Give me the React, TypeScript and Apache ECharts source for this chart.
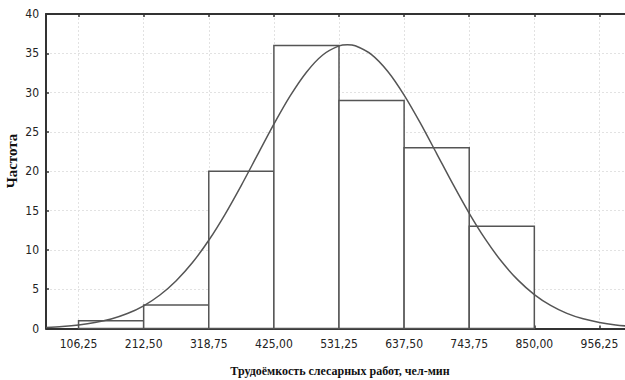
import React, { useEffect, useRef } from "react";
import * as echarts from "echarts";

const binEdges = [106.25, 212.5, 318.75, 425, 531.25, 637.5, 743.75, 850];
const counts = [1, 3, 20, 36, 29, 23, 13];
const tickValues = [106.25, 212.5, 318.75, 425, 531.25, 637.5, 743.75, 850, 956.25];
const curveX = [
  53.125, 79.6875, 106.25, 132.8125, 159.375, 185.9375, 212.5, 239.0625, 265.625, 292.1875,
  318.75, 345.3125, 371.875, 398.4375, 425, 451.5625, 478.125, 504.6875, 531.25, 545, 557.8125,
  584.375, 610.9375, 637.5, 664.0625, 690.625, 717.1875, 743.75, 770.3125, 796.875, 823.4375,
  850, 876.5625, 903.125, 929.6875, 956.25, 982.8125, 1009.375,
];
const curveY = [
  0.14, 0.26, 0.45, 0.75, 1.21, 1.9, 2.89, 4.26, 6.08, 8.39,
  11.22, 14.53, 18.21, 22.11, 25.99, 29.58, 32.6, 34.79, 35.94, 36.1, 35.96,
  34.84, 32.69, 29.69, 26.12, 22.25, 18.35, 14.65, 11.33, 8.48, 6.15,
  4.32, 2.94, 1.93, 1.23, 0.76, 0.45, 0.26,
];
const xTitle = "Трудоёмкость слесарных работ, чел-мин";
const yTitle = "Частота";

const X_MIN = 53.125;
const X_MAX = 1009.375;

export default function App() {
  const ref = useRef<HTMLDivElement>(null);
  useEffect(() => {
    if (!ref.current) return;
    const chart = echarts.init(ref.current, undefined, { renderer: "svg" });
    const tickFont = "'Liberation Sans Narrow', 'Arial Narrow', 'DejaVu Sans Condensed', sans-serif";
    const axisLine = { show: true, lineStyle: { color: "#333", width: 2 } };
    const histData = counts.map((c, i) => [binEdges[i], binEdges[i + 1], c]);
    chart.setOption({
      animation: false,
      backgroundColor: "#fff",
      grid: { left: 46, right: 0, top: 14, bottom: 51.5, containLabel: false },
      xAxis: [
        {
          type: "value",
          position: "bottom",
          min: X_MIN,
          max: X_MAX,
          axisLine,
          axisTick: { show: true, inside: true, length: 3, customValues: tickValues, lineStyle: { color: "#333", width: 1.5 } },
          axisLabel: {
            customValues: tickValues,
            formatter: (v: number) => v.toFixed(2).replace(".", ","),
            color: "#222",
            fontFamily: tickFont,
            fontSize: 12,
            margin: 9,
          },
          splitLine: { show: true, lineStyle: { color: "#e2e2e2", type: [2, 2], width: 1 } },
        },
        {
          type: "value",
          position: "top",
          min: X_MIN,
          max: X_MAX,
          axisLine,
          axisTick: { show: true, inside: true, length: 3, customValues: tickValues, lineStyle: { color: "#333", width: 1.5 } },
          axisLabel: { show: false },
          splitLine: { show: false },
        },
      ],
      yAxis: {
        type: "value",
        min: 0,
        max: 40,
        interval: 5,
        axisLine,
        axisTick: { show: true, inside: true, length: 3, lineStyle: { color: "#333", width: 1.5 } },
        axisLabel: { color: "#222", fontFamily: tickFont, fontSize: 12, margin: 7 },
        splitLine: { show: true, lineStyle: { color: "#e2e2e2", type: [2, 2], width: 1 } },
      },
      graphic: [
        {
          type: "text",
          x: 12,
          y: 161,
          rotation: Math.PI / 2,
          style: {
            text: yTitle,
            fontFamily: "'Liberation Serif', serif",
            fontWeight: "bold",
            fontSize: 15,
            fill: "#111",
            align: "center",
            verticalAlign: "middle",
          },
        },
        {
          type: "text",
          x: 340,
          y: 371,
          style: {
            text: xTitle,
            fontFamily: "'Liberation Serif', serif",
            fontWeight: "bold",
            fontSize: 12,
            fill: "#111",
            align: "center",
            verticalAlign: "middle",
          },
        },
      ],
      series: [
        {
          type: "custom",
          xAxisIndex: 0,
          data: histData,
          encode: { x: [0, 1], y: 2 },
          renderItem: (params: any, api: any) => {
            const p0 = api.coord([api.value(0), api.value(2)]);
            const p1 = api.coord([api.value(1), 0]);
            return {
              type: "rect",
              shape: { x: p0[0], y: p0[1], width: p1[0] - p0[0], height: p1[1] - p0[1] },
              style: { fill: "#fff", stroke: "#555", lineWidth: 1.5 },
            };
          },
          z: 2,
        },
        {
          type: "line",
          xAxisIndex: 0,
          data: curveX.map((x, i) => [x, curveY[i]]),
          smooth: 0.3,
          showSymbol: false,
          symbol: "none",
          lineStyle: { color: "#555", width: 1.5 },
          z: 3,
        },
      ],
    });
    return () => chart.dispose();
  }, []);
  return (
    <div style={{ position: "absolute", left: 0, top: 0, width: 625, height: 380, overflow: "hidden", background: "#fff" }}>
      <div ref={ref} style={{ width: 632, height: 380 }} />
    </div>
  );
}
